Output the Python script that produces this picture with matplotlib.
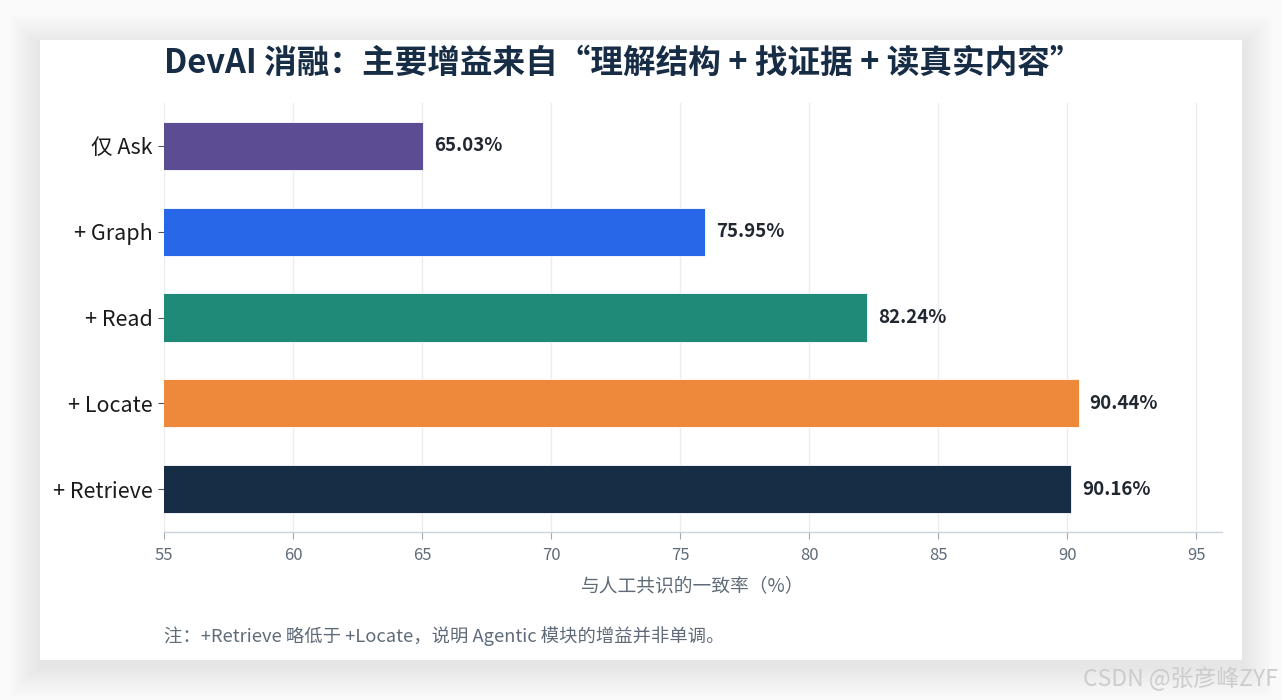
import matplotlib
matplotlib.use("Agg")
import matplotlib.pyplot as plt
from matplotlib.patches import Rectangle

plt.rcParams['font.family'] = ['Noto Sans CJK SC', 'DejaVu Sans']

categories = ["仅 Ask", "+ Graph", "+ Read", "+ Locate", "+ Retrieve"]
values = [65.03, 75.95, 82.24, 90.44, 90.16]
colors = ["#5b4c94", "#2767e8", "#1f8a78", "#ee883b", "#172c45"]
xticks = [55, 60, 65, 70, 75, 80, 85, 90, 95]
title = "DevAI 消融：主要增益来自“理解结构 + 找证据 + 读真实内容”"
xlabel = "与人工共识的一致率（%）"
note = "注：+Retrieve 略低于 +Locate，说明 Agentic 模块的增益并非单调。"
watermark = "CSDN @张彦峰ZYF"

W, H = 1282, 700
fig = plt.figure(figsize=(W / 100, H / 100), dpi=100, facecolor="#fafafa")

# soft card shadow + card
for i in range(10):
    d = (10 - i) * 3
    fig.patches.append(Rectangle(((40 - d) / W, 1 - (660 + d + 6) / H), (1202 + 2 * d) / W,
                                 (620 + 2 * d) / H, transform=fig.transFigure,
                                 facecolor="#000000", alpha=0.006, edgecolor="none", zorder=0))
fig.patches.append(Rectangle((40 / W, 1 - 660 / H), 1202 / W, 620 / H, transform=fig.transFigure,
                             facecolor="white", edgecolor="none", zorder=1))

ax = fig.add_axes([164 / W, 1 - 532 / H, (1222 - 164) / W, (532 - 103) / H])
ax.set_facecolor("none")
ax.set_zorder(2)

y = list(range(len(categories)))
ax.barh(y, values, left=0, height=0.56, color=colors, edgecolor="white", linewidth=0.6, zorder=3)
ax.set_xlim(55, 96)
ax.set_ylim(len(categories) - 0.5, -0.5)
ax.set_yticks(y)
ax.set_yticklabels(categories, fontsize=15.5, color="#1a1a1a")
ax.set_xticks(xticks)
ax.set_xticklabels([str(t) for t in xticks], fontsize=12, color="#5f6b78")
ax.tick_params(axis="y", length=4, color="#555555", pad=4)
ax.tick_params(axis="x", length=5, color="#9aa8b8", pad=6)
ax.grid(axis="x", color="#ececef", linewidth=1, zorder=0)
ax.set_axisbelow(True)
for s in ["top", "right", "left"]:
    ax.spines[s].set_visible(False)
ax.spines["bottom"].set_color("#c9d3de")
ax.spines["bottom"].set_linewidth(1)

for yi, v in zip(y, values):
    ax.annotate(f"{v:.2f}%", xy=(v, yi), xytext=(8, 0), textcoords="offset points",
                ha="left", va="center", fontsize=13.5, fontweight="bold", color="#222831")

ax.set_xlabel(xlabel, fontsize=13.5, color="#5f6b78", labelpad=8)

fig.text(164 / W, 1 - 63 / H, title, fontsize=23.5, fontweight="bold", color="#172c45",
         ha="left", va="center", zorder=5)
fig.text(164 / W, 1 - 636 / H, note, fontsize=13.2, color="#5f6b78", ha="left", va="center", zorder=5)
fig.text(1278 / W, 1 - 679 / H, watermark, fontsize=16.5, color="#cccccc", ha="right", va="center", zorder=5)

fig.savefig("out.png", dpi=100, facecolor=fig.get_facecolor())
